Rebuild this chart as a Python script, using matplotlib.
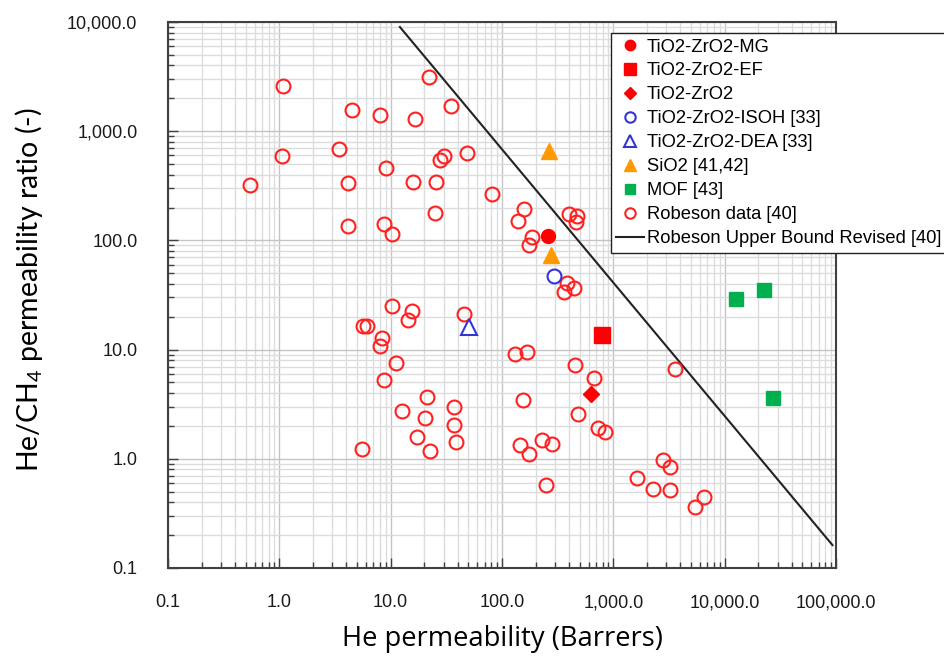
import numpy as np
import matplotlib
matplotlib.use('Agg')
import matplotlib.pyplot as plt
from matplotlib.ticker import LogLocator, FuncFormatter, NullFormatter

plt.rcParams['font.family'] = ['Liberation Sans', 'DejaVu Sans']
plt.rcParams['mathtext.fontset'] = 'custom'
plt.rcParams['mathtext.rm'] = 'Lato'

# Robeson data [40]  (He permeability in Barrers, He/CH4 ratio)
rob_he = [1.08, 4.46, 7.95, 16.7, 22.0, 34.7, 3.43, 1.06, 9.0, 30.0, 28.0, 48.0,
          0.54, 4.15, 15.9, 25.3, 81, 25.1, 4.15, 8.7, 10.3, 156, 138, 398, 476, 460,
          185, 175, 384, 444, 361, 10.3, 15.5, 14.4, 5.6, 6.1, 8.3, 8.05, 11.1, 8.7,
          12.7, 5.55, 45.7, 132, 168, 457, 667, 3560, 21.3, 37.2, 20.4, 37.2, 17.3,
          39.0, 22.6, 154, 479, 724, 837, 144, 175, 229, 280, 251, 2790, 3230, 1630,
          2260, 3230, 6520, 5460]
rob_ratio = [2610, 1563, 1407, 1294, 3155, 1702, 683, 597, 457, 597, 545, 628,
             324, 333, 345, 345, 268, 179, 135, 140, 114, 193, 150, 175, 168, 148,
             108, 90, 41.0, 36.9, 33.5, 24.9, 22.8, 18.7, 16.4, 16.4, 12.8, 10.9, 7.54, 5.27,
             2.72, 1.24, 21.0, 9.12, 9.47, 7.26, 5.52, 6.62, 3.70, 2.96, 2.38, 2.05, 1.57,
             1.43, 1.17, 3.48, 2.59, 1.93, 1.75, 1.34, 1.11, 1.48, 1.37, 0.572, 0.975, 0.847, 0.671,
             0.532, 0.518, 0.444, 0.364]

# Robeson upper bound revised [40]
ub_he = [12.1, 93000]
ub_ratio = [9000, 0.162]

mg_he, mg_ratio = [259], [110]
ef_he, ef_ratio = [798], [13.7]
tz_he, tz_ratio = [636], [3.95]
isoh_he, isoh_ratio = [292], [47.2]
dea_he, dea_ratio = [50.7], [16.2]
sio2_he, sio2_ratio = [267, 278], [663, 73.5]
mof_he, mof_ratio = [12620, 22540, 27160], [29.3, 34.9, 3.60]

fig = plt.figure(figsize=(9.45, 6.62), dpi=100)
ax = fig.add_axes([168/945, 1-568/662, (836-168)/945, (568-22)/662])
ax.set_xscale('log')
ax.set_yscale('log')
ax.set_xlim(0.1, 1e5)
ax.set_ylim(0.1, 1e4)

ax.xaxis.set_major_locator(LogLocator(base=10, numticks=10))
ax.yaxis.set_major_locator(LogLocator(base=10, numticks=10))
ax.xaxis.set_minor_locator(LogLocator(base=10, subs=np.arange(2, 10), numticks=20))
ax.yaxis.set_minor_locator(LogLocator(base=10, subs=np.arange(2, 10), numticks=20))
fmt = FuncFormatter(lambda v, p: f'{v:,.1f}')
ax.xaxis.set_major_formatter(fmt)
ax.yaxis.set_major_formatter(fmt)
ax.xaxis.set_minor_formatter(NullFormatter())
ax.yaxis.set_minor_formatter(NullFormatter())

ax.grid(which='major', color='#c4c4c4', lw=1.0)
ax.grid(which='minor', color='#dcdcdc', lw=1.0)
ax.set_axisbelow(True)

ax.tick_params(which='both', direction='in', top=False, right=False, colors='#404040',
               labelcolor='#1a1a1a', labelsize=13)
ax.tick_params(which='major', length=7, width=1)
ax.tick_params(which='minor', length=4, width=1)
ax.tick_params(axis='x', which='major', pad=19)
ax.tick_params(axis='y', which='major', pad=22)
for s in ax.spines.values():
    s.set_color('#404040')
    s.set_linewidth(1.5)

ax.plot(mg_he, mg_ratio, 'o', color='red', ms=10, label='TiO2-ZrO2-MG', zorder=5)
ax.plot(ef_he, ef_ratio, 's', color='red', ms=11, label='TiO2-ZrO2-EF', zorder=5)
ax.plot(tz_he, tz_ratio, 'D', color='red', ms=8, label='TiO2-ZrO2', zorder=5)
ax.plot(isoh_he, isoh_ratio, 'o', mfc='white', mec='#3535d6', mew=1.5, ms=10,
        label='TiO2-ZrO2-ISOH [33]', zorder=5)
ax.plot(dea_he, dea_ratio, '^', mfc='white', mec='#3535d6', mew=1.5, ms=11,
        label='TiO2-ZrO2-DEA [33]', zorder=5)
ax.plot(sio2_he, sio2_ratio, '^', color='#ff9900', ms=11, label='SiO2 [41,42]', zorder=5)
ax.plot(mof_he, mof_ratio, 's', color='#00b050', ms=10, label='MOF [43]', zorder=5)
ax.plot(rob_he, rob_ratio, 'o', mfc='none', mec='#ff2020', mew=1.5, ms=10,
        label='Robeson data [40]', zorder=4)
ax.plot(ub_he, ub_ratio, '-', color='#222222', lw=1.5,
        label='Robeson Upper Bound Revised [40]', zorder=3)

leg = ax.legend(loc='upper left', bbox_to_anchor=(611/945, 1-33/662),
                bbox_transform=fig.transFigure, borderaxespad=0, fontsize=13.2,
                frameon=True, fancybox=False, edgecolor='#222222', framealpha=1,
                handlelength=1.5, handletextpad=0.15, labelspacing=0.38,
                borderpad=0.3, markerscale=0.75)
leg.get_frame().set_linewidth(1.0)
leg.set_zorder(10)

ax.set_xlabel('He permeability (Barrers)', fontsize=19.7, family='Open Sans')
ax.xaxis.set_label_coords(0.5, (568-625)/546)
ax.set_ylabel('He/CH$_\\mathregular{4}$ permeability ratio (-)', fontsize=20.5, family='Lato')
ax.yaxis.set_label_coords((45-168)/668, (568-290)/546)

fig.savefig('out.png', dpi=100)
